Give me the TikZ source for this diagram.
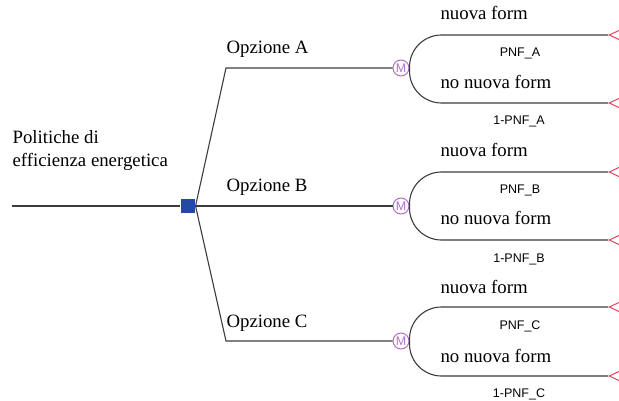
\documentclass[tikz,border=0pt]{standalone}
\usepackage{fontspec}
\setmainfont{Liberation Serif}
\newfontfamily\arialf{Liberation Sans}
\usetikzlibrary{shapes.geometric}
\definecolor{linegray}{HTML}{3C3C3C}
\definecolor{decblue}{HTML}{2448A8}
\definecolor{chpurple}{HTML}{B070C8}
\definecolor{termred}{HTML}{E04660}

\begin{document}
\begin{tikzpicture}[x=1pt,y=-1pt,line width=1.1pt,draw=linegray]
  \tikzstyle{decision}=[rectangle, fill=decblue, minimum size=14pt, inner sep=0pt]
  \tikzstyle{chance}=[circle, draw=chpurple, line width=1pt, text=chpurple, minimum size=16pt, inner sep=0pt, font=\arialf\fontsize{12.5}{12}\selectfont]
  \tikzstyle{terminal}=[isosceles triangle, shape border rotate=180, draw=termred, line width=1pt, isosceles triangle stretches, minimum height=18pt, minimum width=17pt, inner sep=0pt]
  \tikzstyle{lab}=[inner sep=0pt, font=\fontsize{18.8}{23}\selectfont]
  \tikzstyle{prob}=[inner sep=0pt, font=\arialf\fontsize{12.5}{13}\selectfont]
  \tikzstyle{edge}=[rounded corners=32pt]
  \useasboundingbox (0,0) rectangle (619,401);

  \coordinate (start) at (12,206);
  \node[decision] (d) at (188,206) {};
  \coordinate (ka) at (226,68);
  \coordinate (kc) at (226,341);
  \node[chance] (ma) at (401,68) {M};
  \node[chance] (mb) at (401,206) {M};
  \node[chance] (mc) at (401,341) {M};

  \node[terminal, anchor=apex] (ta1) at (608,35) {};
  \node[terminal, anchor=apex] (ta2) at (608,103) {};
  \node[terminal, anchor=apex] (tb1) at (608,172) {};
  \node[terminal, anchor=apex] (tb2) at (608,240) {};
  \node[terminal, anchor=apex] (tc1) at (608,307) {};
  \node[terminal, anchor=apex] (tc2) at (608,376) {};

  \node[lab, anchor=base west, align=left] (pol) at (12,167) {Politiche di\\efficienza energetica};
  \node[lab, anchor=base west] (oa) at (226,54) {Opzione A};
  \node[lab, anchor=base west] (ob) at (226,192) {Opzione B};
  \node[lab, anchor=base west] (oc) at (226,327) {Opzione C};

  \node[lab, anchor=base west] (na1) at (440,20) {nuova form};
  \node[lab, anchor=base west] (na2) at (440,89) {no nuova form};
  \node[lab, anchor=base west] (nb1) at (440,157) {nuova form};
  \node[lab, anchor=base west] (nb2) at (440,225) {no nuova form};
  \node[lab, anchor=base west] (nc1) at (440,293) {nuova form};
  \node[lab, anchor=base west] (nc2) at (440,362) {no nuova form};

  \node[prob, anchor=base] (pa1) at (520,57) {PNF\_A};
  \node[prob, anchor=base] (pa2) at (519,125) {1-PNF\_A};
  \node[prob, anchor=base] (pb1) at (520,194) {PNF\_B};
  \node[prob, anchor=base] (pb2) at (519,262) {1-PNF\_B};
  \node[prob, anchor=base] (pc1) at (520,329) {PNF\_C};
  \node[prob, anchor=base] (pc2) at (519,397) {1-PNF\_C};

  \draw (start) -- (d.west);
  \draw (d.east) -- (ka) -- (ma.west);
  \draw (d.east) -- (mb.west);
  \draw (d.east) -- (kc) -- (mc.west);

  \draw[edge] (ma.east) |- (ta1.apex);
  \draw[edge] (ma.east) |- (ta2.apex);
  \draw[edge] (mb.east) |- (tb1.apex);
  \draw[edge] (mb.east) |- (tb2.apex);
  \draw[edge] (mc.east) |- (tc1.apex);
  \draw[edge] (mc.east) |- (tc2.apex);
\end{tikzpicture}
\end{document}
